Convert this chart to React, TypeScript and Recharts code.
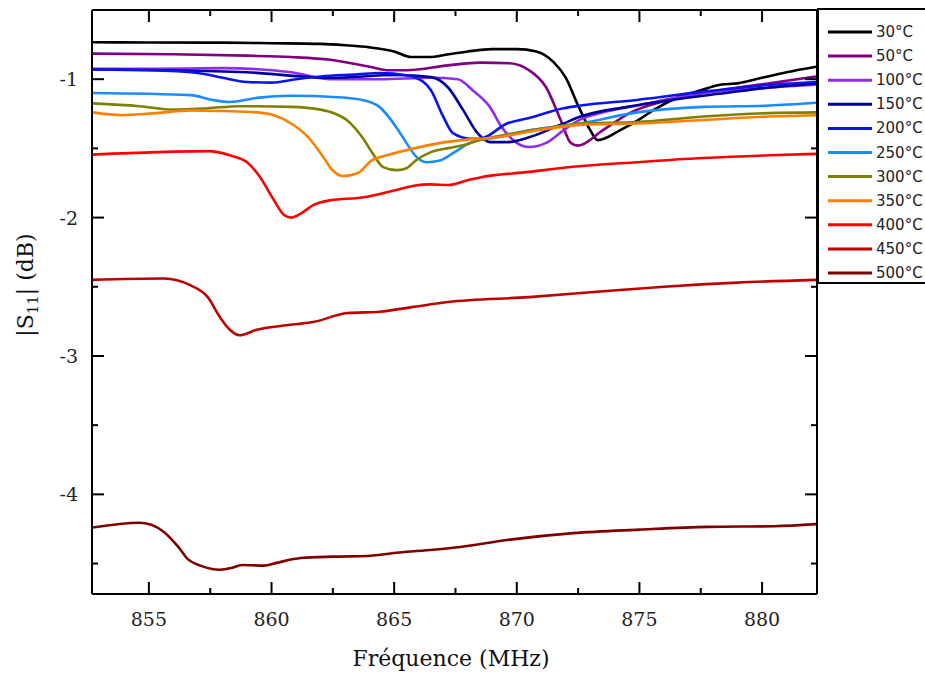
import { LineChart, Line, XAxis, YAxis } from "recharts";

const labels = ["30°C", "50°C", "100°C", "150°C", "200°C", "250°C", "300°C", "350°C", "400°C", "450°C", "500°C"];
const colors = ["#000000", "#800080", "#8f2cf0", "#00009c", "#0a14f0", "#1a8cff", "#808000", "#ff8000", "#ff0000", "#c00000", "#800000"];

// [frequency MHz, |S11| dB]
const s30 = [[852.7,-0.733],[855,-0.735],[858,-0.736],[860,-0.74],[862,-0.745],[863,-0.755],[864,-0.77],[865,-0.8],[865.7,-0.84],[866.5,-0.84],[867,-0.827],[868,-0.8],[869,-0.783],[870,-0.783],[870.8,-0.8],[871.5,-0.877],[872,-0.99],[872.5,-1.19],[873,-1.37],[873.3,-1.44],[874.2,-1.37],[875,-1.29],[875.6,-1.22],[876.6,-1.13],[877.5,-1.08],[878.3,-1.04],[879,-1.03],[880,-0.99],[881,-0.95],[882.2,-0.91]];
const s50 = [[852.7,-0.815],[856,-0.82],[859,-0.83],[860.8,-0.84],[862.4,-0.86],[864,-0.91],[864.8,-0.935],[865.5,-0.935],[867.2,-0.9],[868.5,-0.88],[869.7,-0.885],[870.5,-0.935],[871.2,-1.06],[871.8,-1.3],[872.2,-1.46],[872.5,-1.48],[873.5,-1.37],[874.6,-1.245],[876.2,-1.15],[878.3,-1.08],[880.3,-1.03],[882.2,-0.98]];
const s100 = [[852.7,-0.925],[855,-0.925],[858,-0.92],[860.8,-0.95],[862.4,-1.0],[864.4,-1.0],[866.5,-0.99],[867.6,-1.0],[868.2,-1.08],[868.9,-1.2],[869.4,-1.35],[870,-1.46],[870.5,-1.49],[871.2,-1.46],[871.9,-1.37],[872.6,-1.29],[873.5,-1.24],[874.9,-1.19],[877.6,-1.1],[880.3,-1.06],[882.2,-1.04]];
const s150 = [[852.7,-0.93],[856,-0.935],[859,-0.95],[862.4,-0.99],[865.1,-0.97],[866.5,-0.985],[867.2,-1.06],[867.8,-1.22],[868.4,-1.39],[868.9,-1.455],[869.6,-1.455],[870.5,-1.42],[871.9,-1.32],[872.6,-1.27],[874.5,-1.2],[876.3,-1.15],[878.5,-1.1],[880.3,-1.06],[882.2,-1.03]];
const s200 = [[852.7,-0.93],[855,-0.935],[857,-0.955],[858,-0.99],[859,-1.02],[860,-1.025],[861,-1.0],[862,-0.98],[863.5,-0.965],[864.4,-0.955],[865,-0.96],[865.8,-0.985],[866.5,-1.08],[867,-1.27],[867.4,-1.39],[868.1,-1.43],[868.5,-1.43],[869.6,-1.32],[870.5,-1.28],[871.9,-1.21],[872.6,-1.19],[874.9,-1.15],[877.6,-1.09],[880,-1.045],[882.2,-1.02]];
const s250 = [[852.7,-1.1],[856.7,-1.115],[857.6,-1.15],[858.3,-1.165],[859.4,-1.135],[860.8,-1.12],[862.7,-1.13],[863.7,-1.15],[864.4,-1.2],[865.1,-1.35],[865.5,-1.46],[865.9,-1.56],[866.3,-1.6],[866.9,-1.585],[867.4,-1.535],[868.1,-1.46],[869.2,-1.42],[870.5,-1.37],[872.6,-1.32],[874.9,-1.24],[877.6,-1.2],[880.3,-1.19],[882.2,-1.17]];
const s300 = [[852.7,-1.175],[854.6,-1.195],[856,-1.22],[857.4,-1.21],[858.7,-1.195],[860.8,-1.2],[862,-1.22],[862.6,-1.25],[863.1,-1.3],[863.7,-1.42],[864.1,-1.53],[864.55,-1.635],[865.1,-1.657],[865.5,-1.643],[865.9,-1.585],[866.5,-1.527],[867.2,-1.498],[867.8,-1.477],[868.5,-1.44],[869.9,-1.39],[871.2,-1.354],[872.6,-1.32],[874.9,-1.31],[877.6,-1.27],[880.3,-1.245],[882.2,-1.24]];
const s350 = [[852.7,-1.24],[853.9,-1.26],[855.3,-1.245],[856.7,-1.225],[858,-1.23],[859.4,-1.24],[860.1,-1.26],[860.8,-1.32],[861.5,-1.42],[862.1,-1.56],[862.5,-1.66],[862.9,-1.7],[863.5,-1.68],[864.1,-1.585],[864.7,-1.55],[865.8,-1.5],[866.9,-1.46],[867.8,-1.44],[869.2,-1.42],[870.5,-1.38],[872.6,-1.33],[874.9,-1.32],[877.6,-1.295],[880.3,-1.27],[882.2,-1.26]];
const s400 = [[852.7,-1.545],[855.3,-1.527],[857.4,-1.52],[858.3,-1.55],[859,-1.6],[859.5,-1.7],[860.1,-1.875],[860.5,-1.98],[860.8,-2.0],[861.2,-1.97],[861.7,-1.91],[862.4,-1.875],[863.7,-1.855],[865.1,-1.8],[865.8,-1.77],[866.5,-1.76],[867.2,-1.765],[868,-1.73],[868.5,-1.71],[870.5,-1.67],[872.2,-1.635],[874.9,-1.6],[877.6,-1.57],[880.3,-1.55],[882.2,-1.54]];
const s450 = [[852.7,-2.45],[855.6,-2.44],[856.7,-2.49],[857.4,-2.575],[857.9,-2.72],[858.3,-2.81],[858.7,-2.85],[859.4,-2.81],[860.5,-2.78],[861.7,-2.755],[863.1,-2.69],[864.4,-2.68],[865.8,-2.645],[867.2,-2.61],[870.5,-2.575],[873,-2.54],[876,-2.5],[879,-2.47],[882.2,-2.45]];
const s500 = [[852.7,-4.24],[854.6,-4.205],[855.1,-4.22],[855.6,-4.27],[856.2,-4.38],[856.6,-4.47],[857.1,-4.515],[857.9,-4.545],[858.4,-4.53],[858.8,-4.51],[859.7,-4.515],[860.2,-4.495],[861.2,-4.46],[862.5,-4.45],[863.9,-4.445],[865.2,-4.42],[866.6,-4.4],[867.7,-4.38],[869.6,-4.33],[872.3,-4.28],[875,-4.255],[877.8,-4.235],[880.5,-4.23],[882.2,-4.215]];

const curves = [s30, s50, s100, s150, s200, s250, s300, s350, s400, s450, s500];

const xTicks = [855, 857.5, 860, 862.5, 865, 867.5, 870, 872.5, 875, 877.5, 880];
const yTicks = [-4.5, -4, -3.5, -3, -2.5, -2, -1.5, -1];

const serif = "'DejaVu Serif', serif";

function BottomTick(p: any) {
  const major = p.payload.value % 5 === 0;
  return (
    <g>
      <line x1={p.x} x2={p.x} y1={p.y} y2={p.y - (major ? 12 : 6)} stroke="#000" strokeWidth={2} />
      {major && (
        <text x={p.x} y={p.y + 32} textAnchor="middle" fontFamily={serif} fontSize={19} fill="#222">
          {p.payload.value}
        </text>
      )}
    </g>
  );
}

function TopTick(p: any) {
  const major = p.payload.value % 5 === 0;
  return <line x1={p.x} x2={p.x} y1={p.y} y2={p.y + (major ? 12 : 6)} stroke="#000" strokeWidth={2} />;
}

function LeftTick(p: any) {
  const major = Number.isInteger(p.payload.value);
  return (
    <g>
      <line x1={p.x} x2={p.x + (major ? 12 : 6)} y1={p.y} y2={p.y} stroke="#000" strokeWidth={2} />
      {major && (
        <text x={p.x - 14} y={p.y + 7} textAnchor="end" fontFamily={serif} fontSize={19} fill="#222">
          {p.payload.value}
        </text>
      )}
    </g>
  );
}

function RightTick(p: any) {
  const major = Number.isInteger(p.payload.value);
  return <line x1={p.x} x2={p.x - (major ? 12 : 6)} y1={p.y} y2={p.y} stroke="#000" strokeWidth={2} />;
}

const axisLine = { stroke: "#000", strokeWidth: 2 };

export default function App() {
  return (
    <div style={{ position: "absolute", left: 0, top: 0, width: 925, height: 676, overflow: "hidden", background: "#fff" }}>
      <LineChart width={925} height={676} margin={{ top: 8, right: 100, bottom: 32, left: 32 }}>
        <XAxis xAxisId="b" type="number" dataKey="f" domain={[852.68, 882.24]} allowDataOverflow ticks={xTicks}
          interval={0} height={50} tickSize={0} tickMargin={0} tickLine={false} axisLine={axisLine} tick={BottomTick} />
        <XAxis xAxisId="t" orientation="top" type="number" dataKey="f" domain={[852.68, 882.24]} allowDataOverflow ticks={xTicks}
          interval={0} height={2} tickSize={0} tickMargin={0} tickLine={false} axisLine={axisLine} tick={TopTick} />
        <YAxis yAxisId="l" type="number" domain={[-4.72, -0.5]} allowDataOverflow ticks={yTicks}
          interval={0} width={60} tickSize={0} tickMargin={0} tickLine={false} axisLine={axisLine} tick={LeftTick} />
        <YAxis yAxisId="r" orientation="right" type="number" domain={[-4.72, -0.5]} allowDataOverflow ticks={yTicks}
          interval={0} width={8} tickSize={0} tickMargin={0} tickLine={false} axisLine={axisLine} tick={RightTick} />
        {curves.map((c, i) => (
          <Line key={labels[i]} xAxisId="b" yAxisId="l" data={c.map(([f, v]) => ({ f, v }))} dataKey="v"
            type="monotone" stroke={colors[i]} strokeWidth={2.6} dot={false} isAnimationActive={false} />
        ))}
      </LineChart>

      <svg width={925} height={676} style={{ position: "absolute", left: 0, top: 0, pointerEvents: "none" }}>
        <rect x={818} y={9} width={140} height={274} fill="#fff" stroke="#000" strokeWidth={2} />
        {labels.map((t, i) => (
          <g key={t}>
            <line x1={828} x2={872} y1={32 + i * 24.1} y2={32 + i * 24.1} stroke={colors[i]} strokeWidth={3} />
            <text x={876} y={32 + i * 24.1 + 5} fontFamily="'DejaVu Sans', sans-serif" fontSize={15} fill="#222">{t}</text>
          </g>
        ))}
        <text x={451} y={666} textAnchor="middle" fontFamily={serif} fontSize={22} fill="#111">Fréquence (MHz)</text>
        <text transform="translate(33,285) rotate(-90)" textAnchor="middle" fontFamily={serif} fontSize={22} fill="#111">
          |S<tspan fontSize={15} dy={5}>11</tspan><tspan dy={-5}>| (dB)</tspan>
        </text>
      </svg>
    </div>
  );
}
